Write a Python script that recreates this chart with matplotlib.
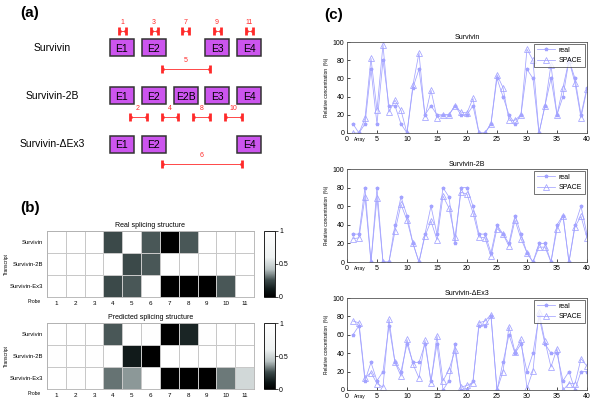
import numpy as np
import matplotlib
matplotlib.use("Agg")
import matplotlib.pyplot as plt
from matplotlib.colors import LinearSegmentedColormap
from matplotlib.patches import Rectangle

plt.rcParams['font.family'] = ['Liberation Sans', 'DejaVu Sans']

# ---------------- data ----------------
# panel (a): exon layout, slot index of each exon per transcript
transcripts = ['Survivin', 'Survivin-2B', 'Survivin-\u0394Ex3']
exon_labels = [['E1', 'E2', 'E3', 'E4'],
               ['E1', 'E2', 'E2B', 'E3', 'E4'],
               ['E1', 'E2', 'E4']]
exon_slots = [[0, 1, 3, 4],
              [0, 1, 2, 3, 4],
              [0, 1, 4]]
# exon probes (number -> slot) and junction probes (number -> from slot, to slot, row)
exon_probes = {1: 0, 3: 1, 7: 2, 9: 3, 11: 4}
junction_probes = {5: (1, 3, 0), 2: (0, 1, 1), 4: (1, 2, 1), 8: (2, 3, 1),
                   10: (3, 4, 1), 6: (1, 4, 2)}

# panel (b): splicing structure, rows = transcripts, columns = probes 1..11
heat_rows = ['Survivin', 'Survivin-2B', 'Survivin-Ex3']
probes = [str(i) for i in range(1, 12)]
real_struct = [[1, 1, 1, 0.25, 1, 0.27, 0, 0.27, 1, 1, 1],
               [1, 1, 1, 1, 0.25, 0.27, 1, 1, 1, 1, 1],
               [1, 1, 1, 0.25, 0.27, 1, 0, 0, 0, 0.27, 1]]
pred_struct = [[1, 1, 1, 0.27, 1, 0.97, 0, 0.15, 0.98, 1, 1],
               [0.97, 1, 0.97, 1, 0.12, 0, 1, 1, 1, 1, 1],
               [1, 0.98, 1, 0.31, 0.36, 1, 0, 0, 0, 0.32, 0.5]]

# panel (c): relative concentration over 40 arrays
arrays = list(range(1, 41))
surv_real = [10, 0, 10, 70, 10, 80, 30, 30, 10, 0, 50, 70, 20, 30, 20, 20, 20, 30, 20, 20,
             30, 0, 0, 10, 60, 40, 20, 10, 20, 70, 60, 0, 30, 60, 20, 40, 80, 60, 20, 50]
surv_space = [0, 0, 16, 82, 25, 97, 23, 36, 25, 0, 53, 88, 18, 47, 17, 20, 20, 30, 23, 22,
              38, 0, 0, 10, 64, 50, 14, 14, 20, 92, 80, 0, 30, 75, 20, 50, 80, 55, 17, 48]
s2b_real = [30, 30, 80, 0, 80, 0, 0, 40, 70, 50, 20, 0, 30, 60, 30, 80, 70, 20, 80, 80,
            60, 30, 30, 10, 40, 30, 20, 50, 30, 10, 0, 20, 20, 0, 40, 50, 0, 40, 60, 30]
s2b_space = [25, 26, 70, 0, 69, 0, 0, 33, 62, 45, 20, 0, 28, 44, 24, 71, 58, 27, 75, 73,
             53, 27, 26, 6, 36, 30, 17, 45, 25, 10, 0, 16, 16, 0, 35, 50, 0, 38, 49, 26]
ex3_real = [60, 70, 10, 30, 10, 20, 70, 30, 20, 50, 30, 30, 50, 10, 50, 0, 10, 50, 0, 0,
            10, 70, 70, 80, 0, 30, 60, 40, 50, 20, 40, 80, 50, 40, 40, 10, 20, 0, 20, 20]
ex3_space = [75, 73, 13, 19, 7, 3, 77, 30, 15, 55, 28, 13, 54, 8, 59, 10, 22, 43, 3, 5,
             8, 73, 75, 82, 0, 20, 69, 41, 55, 2, 21, 85, 53, 25, 45, 0, 7, 7, 34, 26]

# ---------------- figure ----------------
fig = plt.figure(figsize=(6, 4.11), dpi=100)

# overlay axis in pixel coordinates for panel (a) and panel letters
ov = fig.add_axes([0, 0, 1, 1])
ov.set_xlim(0, 600)
ov.set_ylim(411, 0)
ov.axis('off')

for lab, (x, y) in zip(['(a)', '(b)', '(c)'], [(20, 13), (20, 208), (324, 15)]):
    ov.text(x, y, lab, fontsize=11, fontweight='bold', va='center')

slot_left = [110, 142, 173.5, 205, 237]
box_w, box_h = 24, 17
row_y = [48, 96, 144]
red = '#ff2a2a'

for name, labs, slots, y in zip(transcripts, exon_labels, exon_slots, row_y):
    ov.text(52, y, name, fontsize=7.5, ha='center', va='center')
    for lab, s in zip(labs, slots):
        ov.add_patch(Rectangle((slot_left[s], y - box_h / 2), box_w, box_h,
                               facecolor='#cc55ee', edgecolor='#333333', lw=1.1))
        ov.text(slot_left[s] + box_w / 2, y + 0.5, lab, fontsize=7.5,
                ha='center', va='center')


def probe_bar(x0, x1, y, num):
    ov.plot([x0, x1], [y, y], color=red, lw=0.6)
    ov.plot([x0, x1], [y, y], ls='none', marker='|', ms=5.5, mew=2, color=red)
    ov.plot([x0, x0 + 2], [y, y], color=red, lw=2, solid_capstyle='butt')
    ov.plot([x1 - 2, x1], [y, y], color=red, lw=2, solid_capstyle='butt')
    ov.text((x0 + x1) / 2, y - 5, str(num), fontsize=5, color=red,
            ha='center', va='bottom')


for num, s in exon_probes.items():
    c = slot_left[s] + box_w / 2
    probe_bar(c - 3.5, c + 3.5, 31, num)

junction_y = [69, 117, 164]
for num, (a, b, r) in junction_probes.items():
    probe_bar(slot_left[a] + box_w - 4.5, slot_left[b] + 4.5, junction_y[r], num)

# ---------------- panel (b) ----------------
cmap = LinearSegmentedColormap.from_list(
    'splice', [(0, '#000000'), (0.1, '#0b1414'), (0.25, '#3a4848'),
               (0.42, '#b8c2c2'), (0.6, '#eef2f2'), (1, '#ffffff')])

heat_axes = [[0.0783, 0.2774, 0.345, 0.1606], [0.0783, 0.0535, 0.345, 0.1606]]
cbar_axes = [[0.44, 0.2774, 0.0183, 0.1606], [0.44, 0.0535, 0.0183, 0.1606]]
titles = ['Real splicing structure', 'Predicted splicing structure']

for mat, rect, crect, title in zip([real_struct, pred_struct], heat_axes, cbar_axes, titles):
    ax = fig.add_axes(rect)
    m = ax.pcolormesh(np.array(mat), cmap=cmap, vmin=0, vmax=1,
                      edgecolors='#c8c8c8', linewidth=0.5)
    ax.set_ylim(len(heat_rows), 0)
    ax.set_xticks(np.arange(len(probes)) + 0.5)
    ax.set_xticklabels(probes, fontsize=4.5)
    ax.set_yticks(np.arange(len(heat_rows)) + 0.5)
    ax.set_yticklabels(heat_rows, fontsize=4.2)
    ax.tick_params(length=0, pad=3)
    ax.set_title(title, fontsize=5, pad=3)
    ax.set_ylabel('Transcript', fontsize=3.5)
    ax.yaxis.set_label_coords(-0.185, 0.5)
    ax.text(-0.03, -0.07, 'Probe', fontsize=3.5, ha='right', va='center',
            transform=ax.transAxes)
    for sp in ax.spines.values():
        sp.set_color('#b0b0b0')
        sp.set_linewidth(0.6)
    cax = fig.add_axes(crect)
    cb = fig.colorbar(m, cax=cax, ticks=[0, 0.5, 1])
    cb.ax.set_yticklabels(['0', '0.5', '1'])
    cb.ax.tick_params(labelsize=5, length=2, width=0.5, pad=1)
    cb.outline.set_linewidth(0.6)

# ---------------- panel (c) ----------------
line_axes = [[0.5783, 0.6764, 0.4, 0.2214],
             [0.5783, 0.3625, 0.4, 0.2263],
             [0.5783, 0.0511, 0.4, 0.2238]]
series = [(surv_real, surv_space, 'Survivin'),
          (s2b_real, s2b_space, 'Survivin-2B'),
          (ex3_real, ex3_space, 'Survivin-\u0394Ex3')]
blue = '#a3a3ff'

for (real, space, title), rect in zip(series, line_axes):
    ax = fig.add_axes(rect)
    ax.plot(arrays, real, color=blue, lw=0.55, marker='*', ms=2.5, label='real')
    ax.plot(arrays, space, color=blue, lw=0.55, marker='^', ms=4.2,
            markerfacecolor='none', markeredgewidth=0.55, label='SPACE')
    ax.set_xlim(0, 40)
    ax.set_ylim(0, 100)
    ax.set_xticks(range(0, 41, 5))
    ax.set_yticks(range(0, 101, 20))
    ax.tick_params(labelsize=5, direction='in', length=2, width=0.5, pad=2)
    ax.set_title(title, fontsize=5, pad=2)
    ax.set_ylabel('Relative concentration  (%)', fontsize=3.5)
    ax.yaxis.set_label_coords(-0.075, 0.5)
    ax.text(0.055, -0.075, 'Array', fontsize=3.5, ha='center', va='center',
            transform=ax.transAxes)
    for sp in ax.spines.values():
        sp.set_color('#555555')
        sp.set_linewidth(0.6)
    leg = ax.legend(loc='upper right', fontsize=5, fancybox=False,
                    borderaxespad=0.3, handlelength=2.6, borderpad=0.4,
                    labelspacing=0.5, handletextpad=0.6)
    leg.get_frame().set_edgecolor('#333333')
    leg.get_frame().set_linewidth(0.6)

fig.savefig('out.png', dpi=100)
